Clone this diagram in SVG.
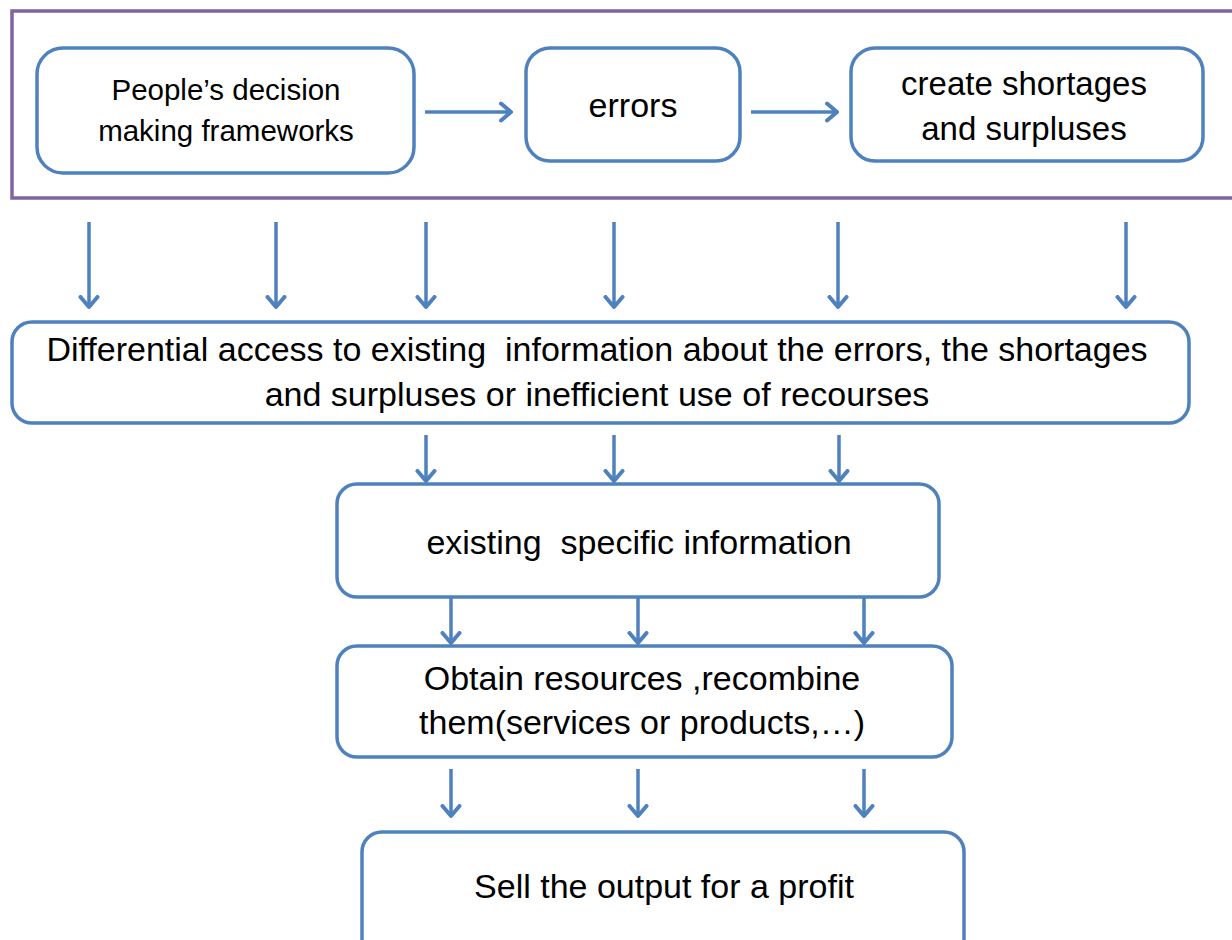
<svg xmlns="http://www.w3.org/2000/svg" width="1232" height="940" viewBox="0 0 1232 940">
<style>
.box{fill:#fff;stroke:#4F81BD;stroke-width:3.5}
.frame{fill:none;stroke:#8064A2;stroke-width:3.5}
.t{font-family:"Liberation Sans",Arial,sans-serif;font-size:34px;fill:#000;text-anchor:middle}
.s{font-size:29.5px}
.c{font-size:33px}
.ar{stroke:#4F81BD;stroke-width:3.5;fill:none;marker-end:url(#ah)}
</style>
<defs>
<marker id="ah" markerUnits="userSpaceOnUse" markerWidth="24" markerHeight="24" viewBox="-12 -12 24 24" refX="0" refY="0" orient="auto">
<path d="M-10,-8.5 L0,0 L-10,8.5" fill="none" stroke="#4F81BD" stroke-width="4" stroke-linejoin="round" stroke-linecap="round"/>
</marker>
</defs>
<rect width="1232" height="940" fill="#fff"/>
<g id="frame"><rect class="frame" x="12" y="11" width="1240" height="187"/></g>
<g id="n1"><rect class="box" x="37" y="48" width="377" height="125" rx="26"/>
<text class="t s" x="226" y="100">People’s decision</text>
<text class="t s" x="226" y="141">making frameworks</text></g>
<g id="n2"><rect class="box" x="526" y="48" width="214" height="113" rx="24"/>
<text class="t" x="633" y="117">errors</text></g>
<g id="n3"><rect class="box" x="851" y="48" width="352" height="113" rx="24"/>
<text class="t c" x="1024" y="95">create shortages</text>
<text class="t c" x="1024" y="140">and surpluses</text></g>
<g id="n4"><rect class="box" x="12" y="322" width="1177" height="101" rx="20"/>
<text class="t" x="597" y="361" xml:space="preserve">Differential access to existing  information about the errors, the shortages</text>
<text class="t" x="597" y="406">and surpluses or inefficient use of recourses</text></g>
<g id="n5"><rect class="box" x="337" y="484" width="602" height="113" rx="20"/>
<text class="t" x="639" y="554" xml:space="preserve">existing  specific information</text></g>
<g id="n6"><rect class="box" x="337" y="646" width="615" height="111" rx="20"/>
<text class="t" x="642" y="690">Obtain resources ,recombine</text>
<text class="t" x="642" y="734">them(services or products,…)</text></g>
<g id="n7"><rect class="box" x="362" y="832" width="602" height="130" rx="20"/>
<text class="t" x="664" y="898">Sell the output for a profit</text></g>
<g id="connectors">
<line class="ar" x1="425" y1="112" x2="511" y2="112"/>
<line class="ar" x1="751" y1="112" x2="837" y2="112"/>
<line class="ar" x1="89" y1="222" x2="89" y2="307"/>
<line class="ar" x1="276" y1="222" x2="276" y2="307"/>
<line class="ar" x1="426" y1="222" x2="426" y2="307"/>
<line class="ar" x1="614" y1="222" x2="614" y2="307"/>
<line class="ar" x1="838" y1="222" x2="838" y2="307"/>
<line class="ar" x1="1126" y1="222" x2="1126" y2="307"/>
<line class="ar" x1="426" y1="435" x2="426" y2="481"/>
<line class="ar" x1="614" y1="435" x2="614" y2="481"/>
<line class="ar" x1="839" y1="435" x2="839" y2="481"/>
<line class="ar" x1="451" y1="597" x2="451" y2="643"/>
<line class="ar" x1="638" y1="597" x2="638" y2="643"/>
<line class="ar" x1="864" y1="597" x2="864" y2="643"/>
<line class="ar" x1="451" y1="769" x2="451" y2="816"/>
<line class="ar" x1="638" y1="769" x2="638" y2="816"/>
<line class="ar" x1="864" y1="769" x2="864" y2="816"/>
</g>
</svg>
